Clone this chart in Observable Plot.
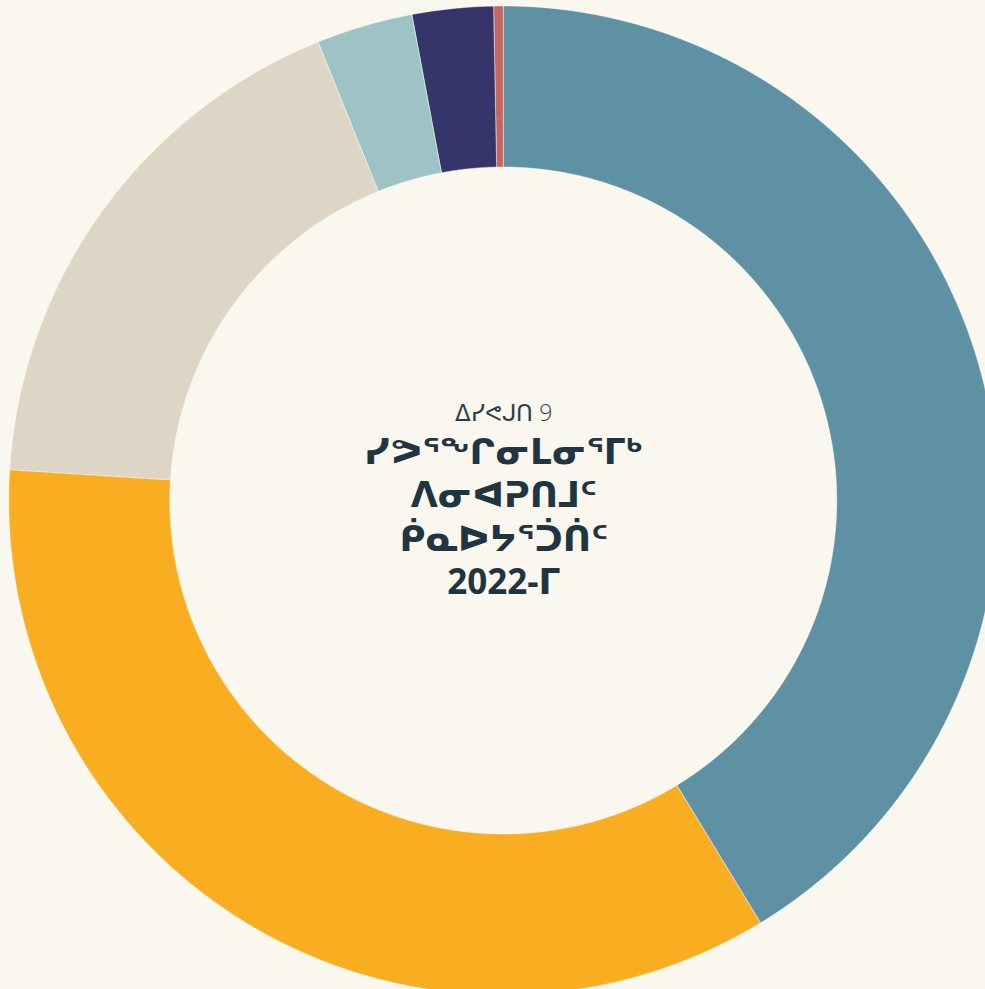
<!DOCTYPE html>
<html>
<head>
<meta charset="utf-8">
<script src="https://cdn.jsdelivr.net/npm/d3@7"></script>
<script src="https://cdn.jsdelivr.net/npm/@observablehq/plot@0.6"></script>
<style>
  html, body { margin: 0; padding: 0; background: #faf7ef; }
  #chart svg { display: block; }
</style>
</head>
<body>
<div id="chart"></div>
<script>
// ---- data ----
const categories = ["1", "2", "3", "4", "5", "6"];
const shares = [41.3, 34.7, 17.9, 3.15, 2.65, 0.3];
const colors = ["#5e91a4", "#f9ae22", "#ddd5c5", "#9dc3c4", "#35356b", "#c4665f"];
const figureLabel = "ᐃᓯᕙᒍᑎ 9";
const titleLines = ["ᓯᕗᕐᖕᒋᓂᒪᓂᕐᒥᒃ", "ᐱᓂᐊᕈᑎᒧᑦ", "ᑮᓇᐅᔭᕐᑑᑏᑦ", "2022-ᒥ"];

// ---- geometry helpers (ring built from the shares) ----
const W = 985, H = 989;
const cx = 503.3, cy = 500.5, Rpx = 494.5;
const inner = 333.5 / Rpx;
const total = d3.sum(shares);
const ends = d3.cumsum(shares);
const rows = [];
categories.forEach((c, i) => {
  const a0 = ((ends[i] - shares[i]) / total) * 2 * Math.PI;
  const a1 = (ends[i] / total) * 2 * Math.PI;
  const n = Math.max(2, Math.ceil((a1 - a0) / (Math.PI / 720)));
  for (let k = 0; k <= n; k++) {
    const a = a0 + (a1 - a0) * k / n;
    rows.push({
      cat: c,
      x1: Math.sin(a), y1: Math.cos(a),
      x2: inner * Math.sin(a), y2: inner * Math.cos(a)
    });
  }
});

const lineGap = 43.5;
const titleMarks = titleLines.map((t, i) =>
  Plot.text([t], {
    x: 0, y: 0, text: d => d,
    dy: 17 + (i - (titleLines.length - 1) / 2) * lineGap,
    fontSize: 35, fill: "#1f3541", fontWeight: 700
  })
);

const chart = Plot.plot({
  width: W,
  height: H,
  margin: 0,
  style: { background: "#faf7ef", fontFamily: "'Open Sans', 'DejaVu Sans', sans-serif" },
  x: { domain: [-cx / Rpx, (W - cx) / Rpx], axis: null },
  y: { domain: [-(H - cy) / Rpx, cy / Rpx], axis: null },
  color: { domain: categories, range: colors },
  marks: [
    Plot.area(rows, {
      x1: "x1", y1: "y1", x2: "x2", y2: "y2",
      z: "cat", fill: "cat",
      stroke: "#faf7ef", strokeWidth: 0.5
    }),
    Plot.text([figureLabel], {
      x: 0, y: 0, text: d => d, dy: -87,
      fontSize: 23, fill: "#2a3f4a", fontWeight: 200
    }),
    ...titleMarks
  ]
});
document.getElementById("chart").appendChild(chart);
</script>
</body>
</html>
